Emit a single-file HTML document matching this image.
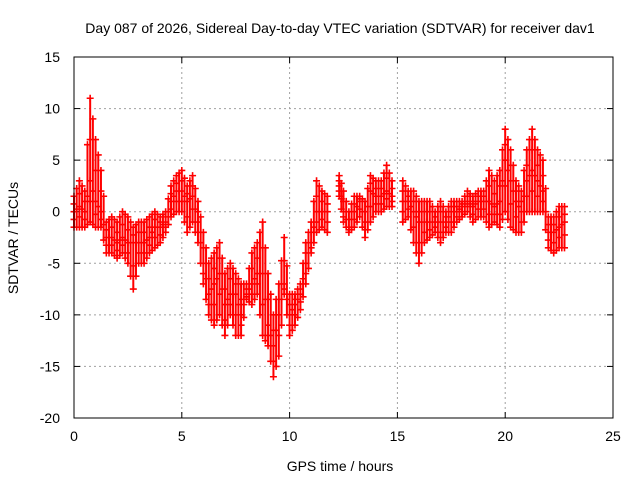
<!DOCTYPE html>
<html><head><meta charset="utf-8"><style>
body{margin:0;background:#fff}
svg{display:block;font-family:"Liberation Sans",sans-serif}
</style></head><body>
<svg id="c" width="640" height="480" viewBox="0 0 640 480">
<rect x="0" y="0" width="640" height="480" fill="#fff"/>
<text x="340" y="33" font-size="14" text-anchor="middle">Day 087 of 2026, Sidereal Day-to-day VTEC variation (SDTVAR) for receiver dav1</text>
<g id="grid"></g>
<g id="ticks"></g>
<g id="pts"></g>
<rect x="74" y="57" width="539" height="361" fill="none" stroke="#000" stroke-width="1"/>
<text x="340" y="471" font-size="14" text-anchor="middle">GPS time / hours</text>
<text transform="translate(18,238) rotate(-90)" font-size="14" text-anchor="middle">SDTVAR / TECUs</text>
</svg>
<script>
const xTicks=[0,5,10,15,20,25];
const yTicks=[15,10,5,0,-5,-10,-15,-20];
const times=[0,0.25,0.5,0.75,1,1.25,1.5,1.75,2,2.25,2.5,2.75,3,3.25,3.5,3.75,4,4.25,4.5,4.75,5,5.25,5.5,5.75,6,6.25,6.5,6.75,7,7.25,7.5,7.75,8,8.25,8.5,8.75,9,9.25,9.5,9.75,10,10.25,10.5,10.75,11,11.25,11.5,11.75,12.3,12.5,12.75,13,13.25,13.5,13.75,14,14.25,14.5,14.75,15.25,15.5,15.75,16,16.25,16.5,16.75,17,17.25,17.5,17.75,18,18.25,18.5,18.75,19,19.25,19.5,19.75,20,20.25,20.5,20.75,21,21.25,21.5,21.75,22,22.25,22.5,22.75];
const valHigh=[1.5,3,2,11,7,4,-1,-0.5,-1,0,-0.5,-1.5,-1,-1,-0.5,0,-0.5,0,2.5,3.5,4,2.5,3.5,1,-2,-5,-4,-3,-6,-5,-6,-7,-7,-4,-3,-1,-6,-10,-7,-2.5,-8,-8,-7,-3,-1,3,2,1.5,3.5,2,0,1.5,1.5,1,3.5,3,3,4.5,3,3,2,2,1,1,1,0,1,0,1,1,1,2,1.5,2,2,4,3,4,8,6,3,2,6,8,6,5,-0.5,-0.5,0.5,0.5];
const valMid=[0,0.5,0,3,1,0,-2.5,-2.5,-3,-2.5,-3,-3,-3,-3,-2.5,-1.5,-1.5,-1,1,2,2,1,1.5,-1,-5,-8,-7,-6,-9,-8,-8,-10,-8,-7,-6,-6,-11,-13,-10,-7,-10,-9,-8,-5,-3,0,0,0,2.5,0,-1.5,0,1,-1,2,1.5,1.5,2,1.5,1,1,0,-1,-1,-1,-1,-1,-1,0,0,0.5,1,0.5,1,1,1,0.5,1,5,3,1,0,3,4,3,2,-2,-2,-1.5,-1];
const valLow=[-1.5,-1.5,-1.5,-1,-1.5,-1.5,-4,-4,-4.5,-4,-5,-7.5,-5,-5,-4,-3.5,-3,-2,-0.5,0,0,-2,-1,-3,-7,-10,-11,-10,-12,-10,-12,-12,-8.5,-9,-8,-12,-13,-16,-14,-8,-12,-11,-9.5,-7,-4,-2,-1.5,-2,1.5,-1,-2,-1.5,-0.5,-2.5,-1,0,0,0.5,0.5,-1,-0.5,-3,-5,-3,-2.5,-2,-3,-2,-2,-1,-0.5,0,-1,-0.5,-0.5,-1.5,-1,-1.5,0,-1.5,-2,-2,0,0,0,0,-3.5,-4,-3.5,-3.5];
const L=74,R=613,T=57,B=418,xMin=0,xMax=25,yMin=-20,yMax=15;
const sx=t=>L+(t-xMin)/(xMax-xMin)*(R-L);
const sy=v=>B-(v-yMin)/(yMax-yMin)*(B-T);
const NS="http://www.w3.org/2000/svg";
const grid=document.getElementById('grid'),ticks=document.getElementById('ticks'),pts=document.getElementById('pts');
function mk(tag,at,parent){const e=document.createElementNS(NS,tag);for(const k in at)e.setAttribute(k,at[k]);parent.appendChild(e);return e;}
xTicks.forEach(t=>{const x=sx(t);
 if(t>xMin&&t<xMax){const g=mk('line',{x1:x,y1:T,x2:x,y2:B,stroke:'#a0a0a0','stroke-dasharray':'2,3'},grid);
 
 }
 mk('line',{x1:x,y1:B,x2:x,y2:B-6,stroke:'#000'},ticks);mk('line',{x1:x,y1:T,x2:x,y2:T+6,stroke:'#000'},ticks);
 const tx=mk('text',{x:x,y:B+23,'font-size':14,'text-anchor':'middle'},ticks);tx.textContent=t;
 
 });
yTicks.forEach(v=>{const y=sy(v);
 if(v>yMin&&v<yMax){const g=mk('line',{x1:L,y1:y,x2:R,y2:y,stroke:'#a0a0a0','stroke-dasharray':'2,3'},grid);
 
 }
 mk('line',{x1:L,y1:y,x2:L+6,y2:y,stroke:'#000'},ticks);mk('line',{x1:R,y1:y,x2:R-6,y2:y,stroke:'#000'},ticks);
 const tx=mk('text',{x:L-14,y:y+5,'font-size':14,'text-anchor':'end'},ticks);tx.textContent=v;
 
 });
let d='',band='';
function plus(t,v){const x=sx(t),y=sy(v);d+=`M${x-3.5},${y}h7M${x},${y-3.5}v7`;}
times.forEach((t,i)=>{
 const lo=valLow[i],mi=valMid[i],hi=valHigh[i];
 plus(t,hi);plus(t,mi);plus(t,lo);
 plus(t,(hi+mi)/2);plus(t,(mi+lo)/2);
 band+=`M${sx(t)},${sy(hi)}V${sy(lo)}`;
 if(i<times.length-1&&times[i+1]-t<0.3){
  const t2=(t+times[i+1])/2;
  plus(t2,(mi+valMid[i+1])/2);plus(t2,(hi+valHigh[i+1])/2);plus(t2,(lo+valLow[i+1])/2);
  band+=`M${sx(t2)},${sy((hi+valHigh[i+1])/2)}V${sy((lo+valLow[i+1])/2)}`;
 }
});
const bd=mk('path',{d:band,stroke:'#ff0000','stroke-width':2,fill:'none'},pts);


const p=mk('path',{d:d,stroke:'#ff0000','stroke-width':1.6,fill:'none'},pts);


</script>
</body></html>
